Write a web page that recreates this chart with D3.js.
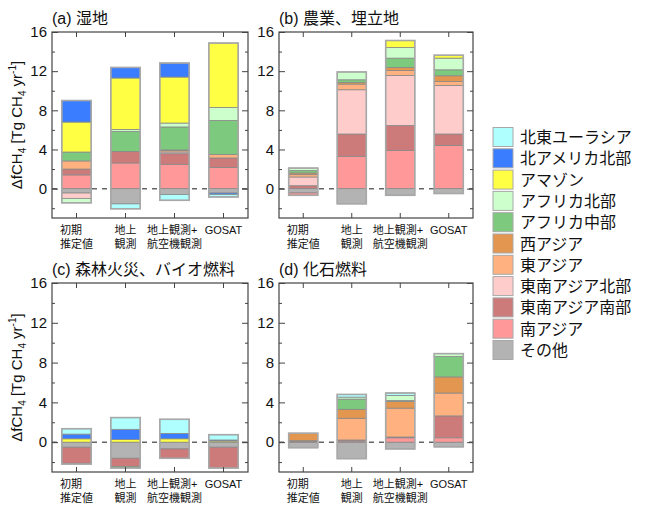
<!DOCTYPE html>
<html>
<head>
<meta charset="utf-8">
<script src="https://cdn.jsdelivr.net/npm/d3@7"></script>
<style>
body { margin: 0; background: #fff; }
text { font-family: "Liberation Sans", Arial, "Noto Sans CJK JP", sans-serif; fill: #111; }
</style>
</head>
<body>
<div id="chart"></div>
<script>
var regions = ["その他", "南アジア", "東南アジア南部", "東南アジア北部", "東アジア", "西アジア",
    "アフリカ中部", "アフリカ北部", "アマゾン", "北アメリカ北部", "北東ユーラシア"];
var regionColors = ["#b3b3b3", "#ff9999", "#cc7a7a", "#ffcccc", "#ffb27f", "#e3964f",
    "#7dc97d", "#ccffcc", "#ffff44", "#3a7dff", "#b0ffff"];
var categories = ["初期推定値", "地上観測", "地上観測+航空機観測", "GOSAT"];
var categoryLines = [["初期", "推定値"], ["地上", "観測"], ["地上観測+", "航空機観測"], ["GOSAT"]];
var panelTitles = ["(a) 湿地", "(b) 農業、埋立地", "(c) 森林火災、バイオ燃料", "(d) 化石燃料"];
var yTicks = [0, 4, 8, 12, 16];
var yMinorTicks = [-2, 2, 6, 10, 14];

// one row per bar, values follow the regions order
var wetland = [
    [-0.45, 1.4, 0.6, -0.55, 0.83, 0, 0.91, -0.45, 3.06, 2.2, 0],
    [-1.56, 2.62, 1.18, 0, 0, 0, 2.05, 0.2, 5.25, 1.08, -0.5],
    [-0.61, 2.48, 1.09, 0.17, 0.14, 0.07, 2.35, 0.4, 4.7, 1.43, -0.58],
    [-0.45, 2.17, 0.96, 0, 0.37, 0, 3.47, 1.33, 6.57, -0.15, -0.25]
];
var agriculture = [
    [-0.44, -0.24, 0.3, 0.89, 0.24, 0.17, 0.24, 0.26, 0, 0, 0],
    [-1.55, 3.3, 2.28, 4.52, 0.58, 0.17, 0.27, 0.8, 0, 0, 0],
    [-0.68, 3.91, 2.55, 5.1, 0.51, 0.31, 0.95, 1.09, 0.71, 0, 0],
    [-0.5, 4.42, 1.16, 4.96, 0.41, 0.58, 0.61, 1.19, 0.3, 0, 0]
];
var fire = [
    [-0.51, 0, -1.62, 0, 0, 0, -0.07, 0, 0.34, 0.47, 0.54],
    [-1.62, 0, -0.82, 0, 0, 0, -0.16, 0, 0.27, 1.02, 1.18],
    [-0.68, 0, -0.94, 0, 0, 0, 0, 0, 0.34, 0.54, 1.42],
    [-0.51, 0, -2.09, 0, 0, 0, 0, 0, 0.12, 0.1, 0.53]
];
var fossil = [
    [-0.56, 0.05, 0.1, 0, 0, 0.75, 0, 0, 0, 0, 0],
    [-1.66, 0.12, 0.1, 0, 2.18, 0.9, 1.03, 0.2, 0, 0, 0.27],
    [-0.68, 0.44, 0.08, 0, 2.9, 0.68, 0.08, 0.52, 0, 0, 0.24],
    [-0.47, 0.44, 2.2, 0, 2.3, 1.62, 2.04, 0.3, 0, 0, 0]
];

var width = 649;
var height = 509;
var svg = d3.select("#chart").append("svg").attr("width", width).attr("height", height);

var color = d3.scaleOrdinal().domain(regions).range(regionColors);

var panels = [
    {values: wetland, left: 52, top: 32, w: 196, h: 186, ylabel: true},
    {values: agriculture, left: 279, top: 32, w: 194, h: 186, ylabel: false},
    {values: fire, left: 52, top: 283, w: 196, h: 189, ylabel: true},
    {values: fossil, left: 279, top: 283, w: 194, h: 189, ylabel: false}
];

panels.forEach(function(p, pi) {
    var g = svg.append("g");
    var x = d3.scaleBand().domain(categories)
        .range([p.left, p.left + p.w]).paddingInner(0.4).paddingOuter(0.2);
    var y = d3.scaleLinear().domain([-3, 16]).range([p.top + p.h, p.top]);

    var rows = categories.map(function(c, i) {
        var row = {category: c};
        regions.forEach(function(r, j) { row[r] = p.values[i][j]; });
        return row;
    });
    var series = d3.stack().keys(regions).offset(d3.stackOffsetDiverging)(rows);

    // zero line
    g.append("line")
        .attr("x1", p.left).attr("x2", p.left + p.w)
        .attr("y1", y(0)).attr("y2", y(0))
        .style("stroke", "#666").style("stroke-width", 1.5)
        .style("stroke-dasharray", "5,5");

    series.forEach(function(s) {
        g.selectAll(null).data(s.filter(function(d) { return d[1] - d[0] !== 0; }))
            .enter().append("rect")
            .attr("x", function(d) { return x(d.data.category); })
            .attr("width", x.bandwidth())
            .attr("y", function(d) { return y(d[1]); })
            .attr("height", function(d) { return y(d[0]) - y(d[1]); })
            .attr("fill", color(s.key))
            .style("stroke", "#8a8a8a").style("stroke-width", 0.8);
    });

    // bar outlines
    rows.forEach(function(row, i) {
        var pos = d3.sum(p.values[i].filter(function(v) { return v > 0; }));
        var neg = d3.sum(p.values[i].filter(function(v) { return v < 0; }));
        g.append("rect")
            .attr("x", x(row.category)).attr("width", x.bandwidth())
            .attr("y", y(pos)).attr("height", y(neg) - y(pos))
            .attr("fill", "none")
            .style("stroke", "#a8a8a8").style("stroke-width", 1.6);
    });

    // frame
    g.append("rect")
        .attr("x", p.left).attr("y", p.top).attr("width", p.w).attr("height", p.h)
        .attr("fill", "none").style("stroke", "#444").style("stroke-width", 1.2);

    var axes = g.append("g").attr("class", "axes");
    axes.append("g").attr("transform", "translate(" + p.left + ",0)")
        .call(d3.axisLeft(y).tickValues(yTicks).tickSize(-6).tickPadding(5).tickFormat(d3.format("d")));
    axes.append("g").attr("transform", "translate(" + p.left + ",0)")
        .call(d3.axisLeft(y).tickValues(yMinorTicks).tickSize(-3).tickFormat(""));
    axes.append("g").attr("transform", "translate(" + (p.left + p.w) + ",0)")
        .call(d3.axisRight(y).tickValues(yTicks).tickSize(-6).tickFormat(""));
    axes.append("g").attr("transform", "translate(" + (p.left + p.w) + ",0)")
        .call(d3.axisRight(y).tickValues(yMinorTicks).tickSize(-3).tickFormat(""));
    axes.append("g").attr("transform", "translate(0," + (p.top + p.h) + ")")
        .call(d3.axisBottom(x).tickSize(-5).tickFormat(""));
    axes.append("g").attr("transform", "translate(0," + p.top + ")")
        .call(d3.axisTop(x).tickSize(-5).tickFormat(""));
    axes.selectAll(".domain").remove();
    axes.selectAll(".tick line").style("stroke", "#444");
    axes.selectAll(".tick text").style("font-size", "15px").style("fill", "#111");

    // category labels, lines left aligned, block centred on the bar
    categories.forEach(function(c, i) {
        var t = g.append("text")
            .style("font-size", "11px")
            .attr("y", p.top + p.h + 16);
        categoryLines[i].forEach(function(line, k) {
            t.append("tspan").attr("dy", k === 0 ? 0 : 13.5).text(line);
        });
        var maxW = 0;
        t.selectAll("tspan").each(function() {
            maxW = Math.max(maxW, this.getComputedTextLength());
        });
        var x0 = x(c) + x.bandwidth() / 2 - maxW / 2;
        t.selectAll("tspan").attr("x", x0);
    });

    // title
    g.append("text")
        .attr("x", p.left).attr("y", p.top - 8)
        .style("font-size", "16px")
        .text(panelTitles[pi]);

    if (p.ylabel) {
        var yl = g.append("text")
            .attr("transform", "translate(22," + (p.top + p.h / 2) + ") rotate(-90)")
            .attr("text-anchor", "middle")
            .style("font-size", "15px");
        yl.append("tspan").text("ΔfCH");
        yl.append("tspan").attr("dy", 4).style("font-size", "10px").text("4");
        yl.append("tspan").attr("dy", -4).text(" [Tg CH");
        yl.append("tspan").attr("dy", 4).style("font-size", "10px").text("4");
        yl.append("tspan").attr("dy", -4).text(" yr");
        yl.append("tspan").attr("dy", -6).style("font-size", "10px").text("-1");
        yl.append("tspan").attr("dy", 6).text("]");
    }
});

// legend, top entry is the last stacked region
var legendItems = regions.slice().reverse();
var legend = svg.append("g");
legendItems.forEach(function(r, i) {
    var cy = 137 + i * 21.3;
    legend.append("rect")
        .attr("x", 493).attr("y", cy - 9.5).attr("width", 20).attr("height", 19)
        .attr("fill", color(r))
        .style("stroke", "#a8a8a8").style("stroke-width", 1);
    legend.append("text")
        .attr("x", 520).attr("y", cy + 6)
        .style("font-size", "16px")
        .text(r);
});
</script>
</body>
</html>
